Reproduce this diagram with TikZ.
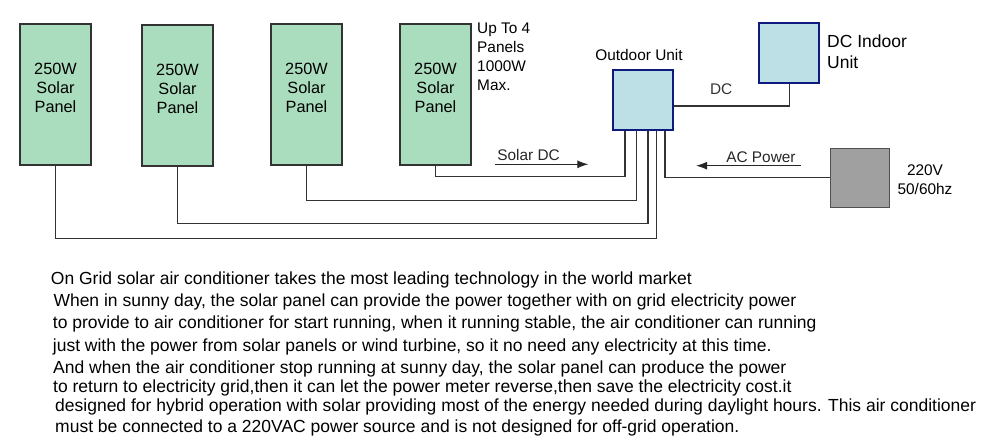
\documentclass[tikz,border=0pt]{standalone}
\usepackage{fontspec}
\setmainfont{Liberation Sans}
\usetikzlibrary{arrows.meta}
\definecolor{panelgreen}{RGB}{170,221,190}
\definecolor{unitfill}{RGB}{188,224,230}
\definecolor{unitedge}{RGB}{14,26,126}
\definecolor{gridfill}{RGB}{160,160,160}
\definecolor{gridedge}{RGB}{80,80,80}

\begin{document}
\begin{tikzpicture}[x=1pt,y=-1pt,
    panel/.style={draw=black!80,line width=1.2pt,fill=panelgreen,minimum width=71pt,minimum height=141pt,align=center,font=\fontsize{16.3}{19}\selectfont,text depth=14pt},
    unit/.style={draw=unitedge,line width=2pt,fill=unitfill,minimum width=60pt,minimum height=60pt,inner sep=0pt},
    wire/.style={line width=1.1pt,black!80},
    flow/.style={line width=1.1pt,black!85,-{Latex[length=11pt,width=8pt]}},
    lbl/.style={inner sep=1pt,font=\fontsize{15.4}{19}\selectfont},
    body/.style={inner sep=0pt,anchor=base west,font=\fontsize{17.5}{20}\selectfont}]
        \useasboundingbox (0,0) rectangle (1000,444);
        % panels and wiring to the outdoor unit
        \foreach \n/\x/\y in {1/55.5/94.5, 2/177.5/95.5, 3/306.5/94.5, 4/435.5/94.5}{\node[panel] (p\n) at (\x,\y) {250W\\Solar\\Panel};}
        \node[lbl,anchor=north west,align=left] (maxlbl) at (476,22) {Up To 4\\Panels\\1000W\\Max.};
        \node[unit] (out) at (642.5,100) {};
        \node[lbl,anchor=south] (outlbl) at (639,62) {Outdoor Unit};
        \node[unit] (in) at (789.3,53) {};
        \node[anchor=west,align=left,inner sep=0pt,font=\fontsize{17.5}{21}\selectfont] (inlbl) at (827,52) {DC Indoor\\Unit};
        \node[draw=gridedge,line width=1.2pt,fill=gridfill,minimum width=59pt,minimum height=59pt] (grid) at (860.3,177.8) {};
        \node[lbl,align=center] (gridlbl) at (925,180) {220V\\50/60hz};
        \foreach \n/\dx in {1/14.2,2/5.5,3/-5.8,4/-17.5}{\coordinate (o\n) at ([xshift=\dx pt]out.south);}
        \coordinate (oac) at ([xshift=22.5pt]out.south);
        \foreach \n/\d in {1/72.7,2/56.7,3/35,4/10.7}{\draw[wire] (p\n.south) -- ++(0,\d) -| (o\n);}
        \draw[wire] (grid.west) -| (oac);
        \draw[wire] ([yshift=-6pt]out.east) -| (in.south) node[lbl,pos=0.206,above=10pt] (dclbl) {DC};
        % flow arrows
        \coordinate (sdcA) at (495,164.3); \coordinate (sdcB) at (588.3,164.3);
        \coordinate (acA) at (800.7,165.7); \coordinate (acB) at (696,165.7);
        \draw[flow] (sdcA) -- (sdcB) node[lbl,pos=0.36,above=2pt] (sdclbl) {Solar DC};
        \draw[flow] (acA) -- (acB) node[lbl,pos=0.38,above=2pt] (aclbl) {AC Power};
        % description
        \foreach \n/\x/\y/\t in {1/50.7/284/{On Grid solar air conditioner takes the most leading technology in the world market},
            2/53.3/306.7/{When in sunny day, the solar panel can provide the power together with on grid electricity power},
            3/52.7/328.7/{to provide to air conditioner for start running, when it running stable, the air conditioner can running},
            4/52.7/351/{just with the power from solar panels or wind turbine, so it no need any electricity at this time.},
            5/53/373.3/{And when the air conditioner stop running at sunny day, the solar panel can produce the power},
            6/53/392.7/{to return to electricity grid,then it can let the power meter reverse,then save the electricity cost.it},
            7/55/411.7/{designed for hybrid operation with solar providing most of the energy needed during daylight hours. This air conditioner},
            8/55/432.7/{must be connected to a 220VAC power source and is not designed for off-grid operation.}}{\node[body] (l\n) at (\x,\y) {\t};}
      \end{tikzpicture}
\end{document}
